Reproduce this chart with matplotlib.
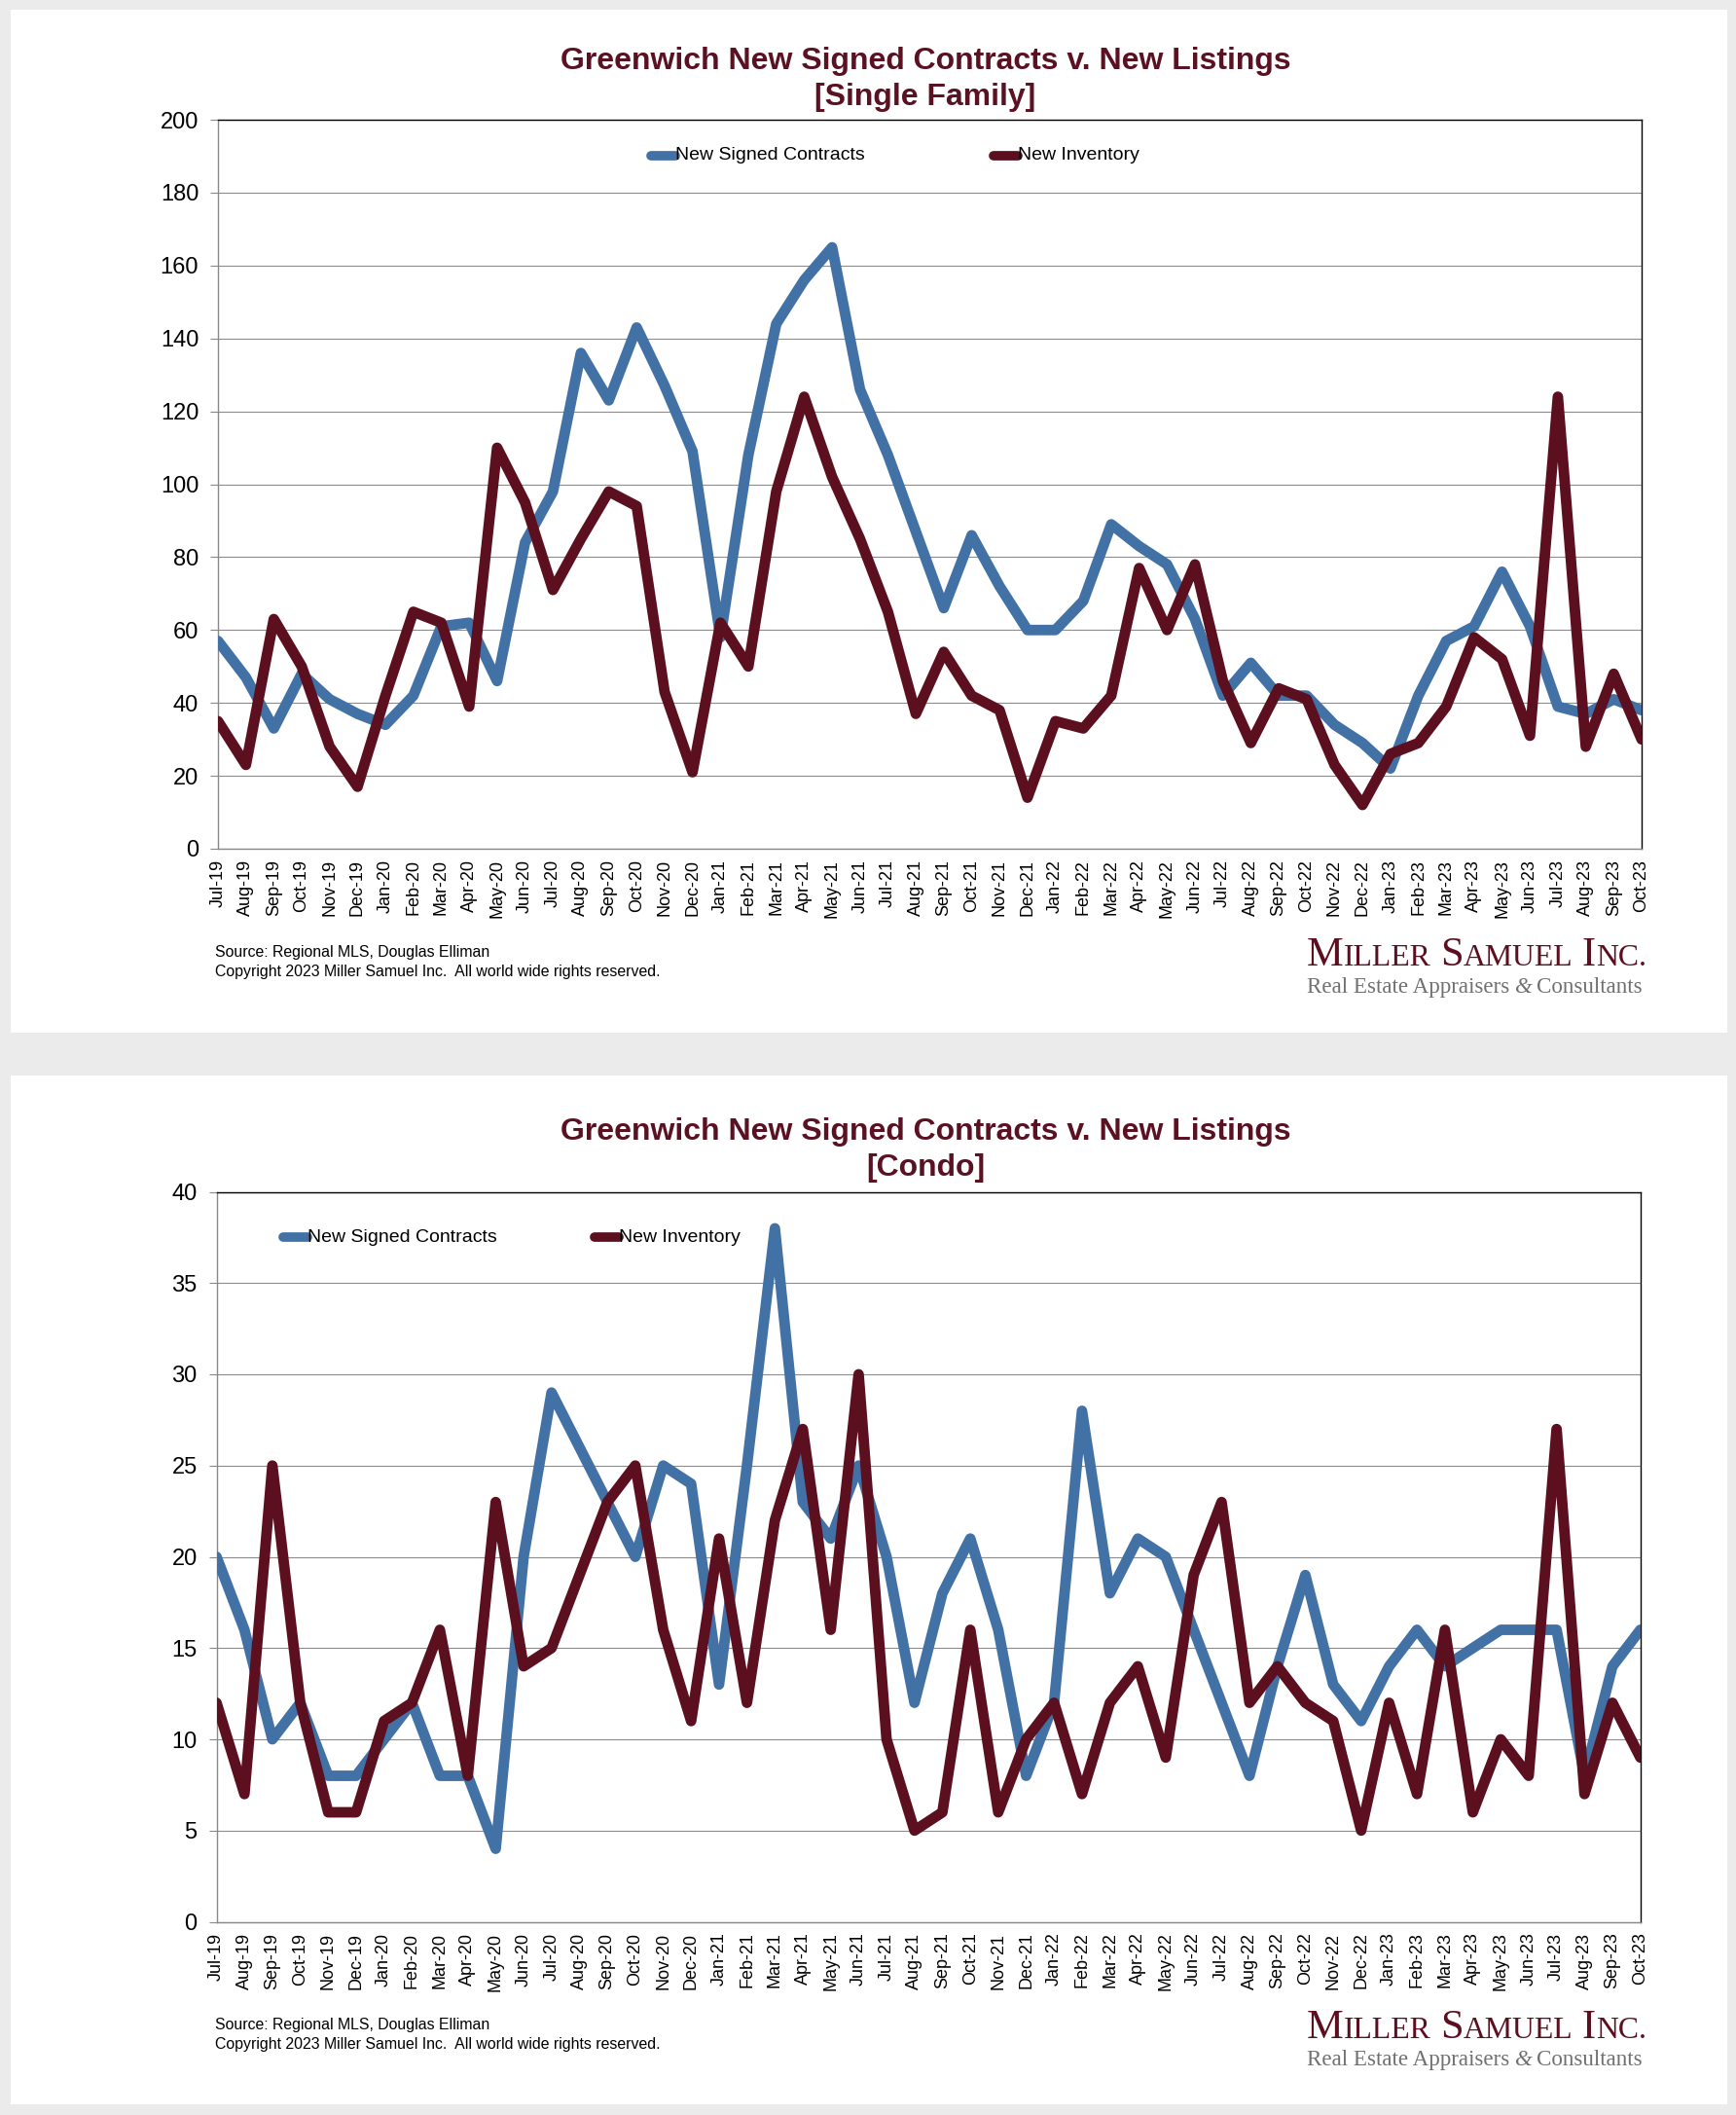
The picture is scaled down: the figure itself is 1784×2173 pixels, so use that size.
import matplotlib
matplotlib.use("Agg")
import matplotlib.pyplot as plt
from matplotlib.lines import Line2D
from matplotlib.patches import Rectangle

W, H = 1784, 2173

months = ["Jul-19", "Aug-19", "Sep-19", "Oct-19", "Nov-19", "Dec-19",
          "Jan-20", "Feb-20", "Mar-20", "Apr-20", "May-20", "Jun-20",
          "Jul-20", "Aug-20", "Sep-20", "Oct-20", "Nov-20", "Dec-20",
          "Jan-21", "Feb-21", "Mar-21", "Apr-21", "May-21", "Jun-21",
          "Jul-21", "Aug-21", "Sep-21", "Oct-21", "Nov-21", "Dec-21",
          "Jan-22", "Feb-22", "Mar-22", "Apr-22", "May-22", "Jun-22",
          "Jul-22", "Aug-22", "Sep-22", "Oct-22", "Nov-22", "Dec-22",
          "Jan-23", "Feb-23", "Mar-23", "Apr-23", "May-23", "Jun-23",
          "Jul-23", "Aug-23", "Sep-23", "Oct-23"]

sf_contracts = [57, 47, 33, 48, 41, 37, 34, 42, 61, 62, 46, 84, 98, 136, 123, 143, 127, 109,
                58, 108, 144, 156, 165, 126, 108, 87, 66, 86, 72, 60, 60, 68, 89, 83, 78, 63,
                42, 51, 42, 42, 34, 29, 22, 42, 57, 61, 76, 61, 39, 37, 41, 38]
sf_inventory = [35, 23, 63, 50, 28, 17, 42, 65, 62, 39, 110, 95, 71, 85, 98, 94, 43, 21,
                62, 50, 98, 124, 102, 85, 65, 37, 54, 42, 38, 14, 35, 33, 42, 77, 60, 78,
                46, 29, 44, 41, 23, 12, 26, 29, 39, 58, 52, 31, 124, 28, 48, 30]

condo_contracts = [20, 16, 10, 12, 8, 8, 10, 12, 8, 8, 4, 20, 29, 26, 23, 20, 25, 24,
                   13, 25, 38, 23, 21, 25, 20, 12, 18, 21, 16, 8, 12, 28, 18, 21, 20, 16,
                   12, 8, 14, 19, 13, 11, 14, 16, 14, 15, 16, 16, 16, 8, 14, 16]
condo_inventory = [12, 7, 25, 12, 6, 6, 11, 12, 16, 8, 23, 14, 15, 19, 23, 25, 16, 11,
                   21, 12, 22, 27, 16, 30, 10, 5, 6, 16, 6, 10, 12, 7, 12, 14, 9, 19,
                   23, 12, 14, 12, 11, 5, 12, 7, 16, 6, 10, 8, 27, 7, 12, 9]

sf_yticks = [0, 20, 40, 60, 80, 100, 120, 140, 160, 180, 200]
condo_yticks = [0, 5, 10, 15, 20, 25, 30, 35, 40]

title_main = "Greenwich New Signed Contracts v. New Listings"
sub_sf = "[Single Family]"
sub_condo = "[Condo]"
series_names = ["New Signed Contracts", "New Inventory"]
source_txt = "Source: Regional MLS, Douglas Elliman"
copyright_txt = "Copyright 2023 Miller Samuel Inc.  All world wide rights reserved."

BLUE = "#4271a6"
MAROON = "#5b0f1f"
TITLE_C = "#5a1222"
GRID_C = "#8c8c8c"

plt.rcParams['font.family'] = ['Liberation Sans', 'DejaVu Sans']

fig = plt.figure(figsize=(W / 100, H / 100), dpi=100)
fig.patch.set_facecolor("#ebebeb")


def fx(x):
    return x / W


def fy(y):
    return 1 - y / H


# white panels
for (y0, y1) in [(10, 1061), (1105, 2162)]:
    fig.add_artist(Rectangle((fx(11), fy(y1)), (1775 - 11) / W, (y1 - y0) / H,
                             transform=fig.transFigure, facecolor="white",
                             edgecolor="none", zorder=-10))

renderer = fig.canvas.get_renderer()


def draw_runs(runs, x0, y, target_w, color):
    def layout(scale):
        x = x0
        arts = []
        for txt, size, style, gap in runs:
            t = fig.text(fx(x), fy(y), txt, fontsize=size * scale, style=style,
                         family=['Liberation Serif', 'DejaVu Serif'], color=color,
                         ha='left', va='baseline')
            w = t.get_window_extent(renderer).width
            x += w + gap * scale
            arts.append(t)
        return x - x0, arts
    w, arts = layout(1.0)
    for a in arts:
        a.remove()
    layout(target_w / w)


def make_chart(box, c_vals, i_vals, yticks, sub, title_y, legend_pos, foot_y, logo_y):
    left, top, right, bottom = box
    ax = fig.add_axes([fx(left), fy(bottom), (right - left) / W, (bottom - top) / H])
    x = list(range(len(months)))
    ax.plot(x, c_vals, color=BLUE, lw=7.8, solid_joinstyle='round',
            solid_capstyle='round', zorder=3)
    ax.plot(x, i_vals, color=MAROON, lw=7.8, solid_joinstyle='round',
            solid_capstyle='round', zorder=4)
    ax.set_xlim(0, len(months) - 1)
    ax.set_ylim(yticks[0], yticks[-1])
    ax.set_yticks(yticks)
    ax.set_yticklabels([str(v) for v in yticks])
    ax.set_xticks(x)
    ax.set_xticklabels(months, rotation=90, fontsize=13)
    ax.yaxis.grid(True, color=GRID_C, lw=0.8)
    ax.set_axisbelow(True)
    ax.tick_params(axis='y', length=5.8, width=0.8, color='#888888', pad=8.5, labelsize=17)
    ax.tick_params(axis='x', length=0, pad=8)
    for s in ['top', 'right']:
        ax.spines[s].set_color('black')
        ax.spines[s].set_linewidth(1.0)
    for s in ['left', 'bottom']:
        ax.spines[s].set_color('#888888')
        ax.spines[s].set_linewidth(1.0)

    # titles
    cx = 951
    fig.text(fx(cx), fy(title_y[0]), title_main, ha='center', va='baseline',
             fontsize=23, weight='bold', color=TITLE_C)
    fig.text(fx(cx), fy(title_y[1]), sub, ha='center', va='baseline',
             fontsize=23, weight='bold', color=TITLE_C)

    # legend
    ly = legend_pos[2]
    for (xs, name, col) in [(legend_pos[0], series_names[0], BLUE),
                            (legend_pos[1], series_names[1], MAROON)]:
        fig.add_artist(Line2D([fx(xs), fx(xs + 25)], [fy(ly), fy(ly)],
                              transform=fig.transFigure, color=col, lw=7,
                              solid_capstyle='round'))
        fig.text(fx(xs + 25), fy(ly), name, ha='left', va='center', fontsize=14,
                 color='black')

    # footer
    fig.text(fx(221), fy(foot_y[0]), source_txt, ha='left', va='center', fontsize=11.4)
    fig.text(fx(221), fy(foot_y[1]), copyright_txt, ha='left', va='center', fontsize=11.4)

    # logo
    big, small = 32, 24
    draw_runs([("M", big, 'normal', 0), ("ILLER", small, 'normal', 10),
               ("S", big, 'normal', 0), ("AMUEL", small, 'normal', 10),
               ("I", big, 'normal', 0), ("NC.", small, 'normal', 0)],
              1343, logo_y[0], 350, MAROON)
    draw_runs([("Real Estate Appraisers", 13, 'normal', 4), ("&", 13, 'italic', 4),
               ("Consultants", 13, 'normal', 0)],
              1343, logo_y[1], 345, "#707070")
    return ax


make_chart((224, 123, 1687, 872), sf_contracts, sf_inventory, sf_yticks, sub_sf,
           (71, 108), (669, 1021, 160), (978, 999), (992, 1020))
make_chart((222.5, 1224.5, 1685.7, 1974.5), condo_contracts, condo_inventory, condo_yticks,
           sub_condo, (1171, 1208), (291, 611, 1271), (2080, 2101), (2094, 2122))

fig.savefig("out.png", dpi=100, facecolor=fig.get_facecolor())
